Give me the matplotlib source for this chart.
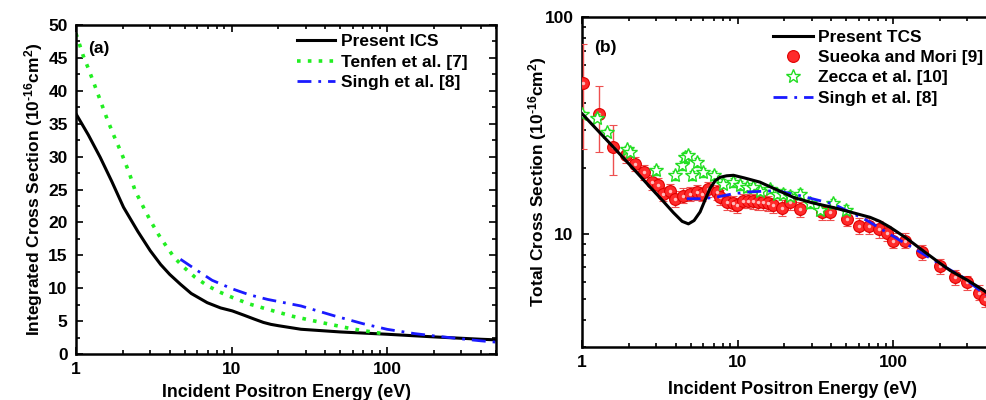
import numpy as np
import matplotlib
matplotlib.use("Agg")
import matplotlib.pyplot as plt
from matplotlib.lines import Line2D
from matplotlib.ticker import LogLocator, MultipleLocator, NullFormatter, FixedLocator, FixedFormatter

plt.rcParams['font.family'] = ['Liberation Sans', 'DejaVu Sans']
plt.rcParams['font.weight'] = 'bold'
plt.rcParams['mathtext.fontset'] = 'custom'
plt.rcParams['mathtext.rm'] = 'Liberation Sans:bold'
plt.rcParams['mathtext.bf'] = 'Liberation Sans:bold'
plt.rcParams['mathtext.default'] = 'bf'

# ---------------- Panel (a) data ----------------
ics_e = [1.0, 1.2, 1.43, 1.7, 2.02, 2.5, 3.0, 3.5, 4.0, 4.69, 5.5, 6.97, 8.5, 10.1, 12.0, 14.0,
         16.0, 17.9, 20.0, 27.9, 50.0, 100.0, 200.0, 400.0, 500.0]
ics_v = [36.5, 33.3, 29.9, 26.2, 22.3, 18.6, 15.7, 13.6, 12.1, 10.6, 9.2, 7.8, 7.0, 6.55, 5.9, 5.3,
         4.8, 4.5, 4.3, 3.76, 3.35, 3.0, 2.6, 2.24, 2.15]

tenfen_e = [1.0, 1.11, 1.2, 1.33, 1.45, 1.58, 1.75, 1.97, 2.2, 2.4, 2.7, 3.0, 3.4, 3.85, 4.3,
            4.92, 5.8, 6.97, 8.4, 10.1, 13.0, 17.0, 25.0, 37.5, 60.0, 100.0]
tenfen_v = [48.7, 45.4, 43.4, 40.6, 38.2, 35.8, 33.2, 30.4, 27.5, 24.8, 22.4, 20.3, 18.1, 16.2, 14.6,
            13.2, 11.7, 10.4, 9.4, 8.6, 7.6, 6.8, 5.7, 4.8, 3.8, 3.0]

singh_a_e = [4.69, 6.0, 7.5, 10.1, 13.0, 17.0, 27.9, 45.7, 70.0, 100.0, 150.0, 202.0, 300.0, 400.0, 500.0]
singh_a_v = [14.4, 12.7, 11.2, 9.9, 9.0, 8.3, 7.3, 5.8, 4.6, 3.75, 3.1, 2.74, 2.3, 2.0, 1.8]

# ---------------- Panel (b) data ----------------
tcs_e = [1.0, 1.59, 2.2, 2.74, 3.3, 3.87, 4.4, 4.83, 5.25, 5.74, 6.2, 6.65, 7.2, 7.71, 8.5, 9.4,
         11.0, 13.9, 18.0, 22.9, 30.0, 41.3, 55.0, 71.0, 82.0, 95.6, 120.0, 157.0, 200.0, 233.0,
         300.0, 363.0, 450.0, 500.0]
tcs_v = [35.8, 25.1, 19.5, 16.4, 14.2, 12.5, 11.4, 11.1, 11.5, 12.6, 14.4, 16.2, 17.6, 18.2, 18.5, 18.6,
         18.1, 17.3, 15.9, 14.7, 13.9, 13.2, 12.5, 11.9, 11.4, 10.7, 9.6, 8.3, 7.3, 6.75,
         6.1, 5.6, 5.05, 4.85]

singh_b_e = [4.71, 6.0, 7.5, 9.4, 12.0, 17.9, 25.0, 41.3, 68.0, 111.0, 150.0, 200.0, 280.0, 363.0, 500.0]
singh_b_v = [14.5, 14.5, 14.8, 15.3, 15.6, 15.8, 15.0, 13.7, 11.5, 9.3, 8.2, 7.24, 6.3, 5.45, 4.7]

sm_e = [1.01, 1.29, 1.59, 1.92, 2.19, 2.5, 2.8, 3.1, 3.33, 3.68, 3.96, 4.48, 4.95, 5.47, 5.9,
        6.49, 7.35, 7.7, 8.5, 9.3, 9.9, 10.9, 11.7, 12.5, 13.5, 14.6, 15.7, 17.0, 19.2, 21.8,
        25.2, 34.7, 39.4, 50.4, 59.9, 69.4, 80.5, 91.0, 100.0, 119.0, 153.0, 200.0, 250.0,
        298.0, 354.0, 391.0, 450.0, 500.0]
sm_v = [49.7, 35.8, 25.1, 23.0, 21.0, 19.2, 17.3, 16.7, 15.3, 15.8, 14.5, 15.0, 15.3, 15.5, 15.3,
        16.1, 15.5, 14.7, 14.0, 13.8, 13.5, 14.2, 14.2, 14.1, 14.0, 14.0, 13.8, 13.5, 13.2, 14.0,
        13.0, 12.6, 12.6, 11.7, 10.9, 10.9, 10.5, 10.1, 9.3, 9.3, 8.2, 7.1, 6.3,
        5.96, 5.35, 4.99, 4.7, 4.4]
sm_err = [25.0, 12.0, 6.5, 1.8, 1.6, 1.5, 1.4, 1.3, 1.2, 1.2, 1.2, 1.2, 1.2, 1.2, 1.2,
          1.3, 1.2, 1.2, 1.1, 1.1, 1.1, 1.1, 1.1, 1.1, 1.1, 1.1, 1.1, 1.1, 1.1, 1.1,
          1.0, 1.0, 1.0, 0.9, 0.9, 0.9, 0.9, 0.8, 0.75, 0.75, 0.65, 0.55, 0.5,
          0.45, 0.42, 0.4, 0.37, 0.35]

zecca_e = [1.0, 1.24, 1.44, 1.94, 2.04, 2.99, 3.96, 4.37, 4.6, 4.8, 5.07, 5.47, 6.0, 7.0, 8.1,
           9.4, 10.4, 11.5, 12.6, 13.9, 16.2, 17.9, 19.7, 21.8, 25.2, 29.0, 34.0, 41.3, 50.0]
zecca_v = [35.8, 34.3, 29.4, 24.6, 23.7, 19.6, 18.6, 20.7, 22.6, 23.0, 18.6, 21.4, 19.2, 18.6, 17.0,
           17.3, 16.7, 16.4, 16.4, 15.8, 16.1, 15.3, 15.3, 15.0, 15.3, 13.8, 12.9, 13.8, 12.9]
zecca_err = [1.2, 1.2, 1.0, 0.9, 0.9, 0.9, 0.9, 1.0, 1.1, 1.1, 0.9, 1.0, 0.9, 0.9, 0.8,
             0.8, 0.8, 0.8, 0.8, 0.7, 0.7, 0.7, 0.7, 0.7, 0.7, 0.6, 0.6, 0.6, 0.6]

FS = 12.5
LFS = 12.8
YLFS = 12.5

GREEN = '#22ee22'
BLUE = '#1a1aff'
DASHDOT = (0, (5, 2.5, 1, 2.5))
UNIT = ' (10$^{\u201016}$cm$^{2}$)'

fig = plt.figure(figsize=(9.86, 4.0), dpi=100)

def style_axes(ax):
    ax.tick_params(which='both', direction='in', top=True, right=True, labelsize=FS, width=1.2, pad=6)
    ax.tick_params(which='major', length=5)
    ax.tick_params(which='minor', length=3)
    for s in ax.spines.values():
        s.set_linewidth(1.8)
    for lab in ax.get_xticklabels() + ax.get_yticklabels():
        lab.set_fontweight('bold')

# ---------- Panel (a) ----------
ax1 = fig.add_axes([76/986, 1-354/400, 420/986, 329/400])
ax1.plot(ics_e, ics_v, color='black', lw=2.2, label='Present ICS')
ax1.plot(tenfen_e, tenfen_v, color=GREEN, lw=2.6, ls=(0, (1, 2.0)), label='Tenfen et al. [7]')
ax1.plot(singh_a_e, singh_a_v, color=BLUE, lw=2.0, ls=DASHDOT, label='Singh et al. [8]')
ax1.set_xscale('log')
ax1.set_xlim(1, 500)
ax1.set_ylim(0, 50)
ax1.yaxis.set_major_locator(MultipleLocator(5))
ax1.yaxis.set_minor_locator(MultipleLocator(2.5))
ax1.xaxis.set_major_locator(FixedLocator([1, 10, 100]))
ax1.xaxis.set_major_formatter(FixedFormatter(['1', '10', '100']))
ax1.xaxis.set_minor_locator(LogLocator(base=10, subs=np.arange(2, 10), numticks=20))
ax1.xaxis.set_minor_formatter(NullFormatter())
ax1.set_xlabel('Incident Positron Energy (eV)', fontsize=LFS, fontweight='bold', labelpad=5)
ax1.set_ylabel('Integrated Cross Section' + UNIT, fontsize=YLFS, fontweight='bold', labelpad=2)
ax1.text(0.03, 0.95, '(a)', transform=ax1.transAxes, fontsize=FS, fontweight='bold', va='top')
leg1 = ax1.legend(loc='upper left', bbox_to_anchor=(0.525, 0.972), frameon=False, fontsize=FS,
                  handlelength=2.2, handletextpad=0.35, labelspacing=0.3, borderaxespad=0, borderpad=0)
for t in leg1.get_texts():
    t.set_fontweight('bold')
style_axes(ax1)

# ---------- Panel (b) ----------
ax2 = fig.add_axes([582/986, 1-347/400, 420/986, 330/400])
ax2.plot(tcs_e, tcs_v, color='black', lw=2.2, zorder=5)
ax2.errorbar(sm_e, sm_v, yerr=sm_err, fmt='o', color='#ff2020', ecolor='#ee5050', elinewidth=1.0,
             capsize=3, capthick=1.0, ms=8.5, mec='#e00000', mfc='#ff2a2a', mew=0.8, zorder=3)
ax2.plot(sm_e, sm_v, 'o', ms=2.5, mfc='#ffbbbb', mec='none', zorder=3.5)
ax2.errorbar(zecca_e, zecca_v, yerr=zecca_err, fmt='*', color=GREEN, ecolor=GREEN, elinewidth=0.8,
             capsize=2.5, capthick=0.8, ms=10, mfc='white', mec='#22dd22', mew=1.0, zorder=4)
ax2.plot(singh_b_e, singh_b_v, color=BLUE, lw=2.0, ls=DASHDOT, zorder=4.5)
ax2.set_xscale('log')
ax2.set_yscale('log')
ax2.set_xlim(1, 500)
ax2.set_ylim(3, 100)
ax2.xaxis.set_major_locator(FixedLocator([1, 10, 100]))
ax2.xaxis.set_major_formatter(FixedFormatter(['1', '10', '100']))
ax2.xaxis.set_minor_locator(LogLocator(base=10, subs=np.arange(2, 10), numticks=20))
ax2.xaxis.set_minor_formatter(NullFormatter())
ax2.yaxis.set_major_locator(FixedLocator([10, 100]))
ax2.yaxis.set_major_formatter(FixedFormatter(['10', '100']))
ax2.yaxis.set_minor_locator(LogLocator(base=10, subs=np.arange(2, 10), numticks=20))
ax2.yaxis.set_minor_formatter(NullFormatter())
ax2.set_xlabel('Incident Positron Energy (eV)', fontsize=LFS, fontweight='bold', labelpad=8)
ax2.set_ylabel('Total Cross Section' + UNIT, fontsize=YLFS, fontweight='bold', labelpad=-3)
ax2.text(0.03, 0.93, '(b)', transform=ax2.transAxes, fontsize=FS, fontweight='bold', va='top')
handles = [
    Line2D([], [], color='black', lw=2.2),
    Line2D([], [], ls='none', marker='o', ms=8.5, mec='#e00000', mfc='#ff2a2a', mew=0.8),
    Line2D([], [], ls='none', marker='*', ms=10, mfc='white', mec='#22dd22', mew=1.0),
    Line2D([], [], color=BLUE, lw=2.0, ls=DASHDOT),
]
labels = ['Present TCS', 'Sueoka and Mori [9]', 'Zecca et al. [10]', 'Singh et al. [8]']
leg2 = ax2.legend(handles, labels, loc='upper left', bbox_to_anchor=(0.455, 0.962), frameon=False,
                  fontsize=FS, handlelength=2.3, handletextpad=0.3, labelspacing=0.3,
                  borderaxespad=0, borderpad=0)
for t in leg2.get_texts():
    t.set_fontweight('bold')
style_axes(ax2)

fig.savefig('out.png', dpi=100)
